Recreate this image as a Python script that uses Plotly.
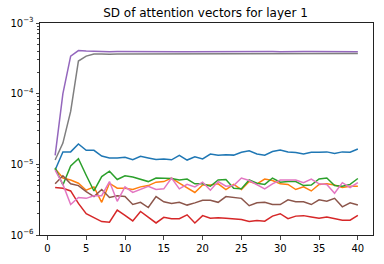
import plotly.graph_objects as go

x = list(range(1, 41))

blue = [8.3e-6, 1.5e-5, 1.5e-5, 1.94e-5, 1.58e-5, 1.58e-5, 1.31e-5, 1.23e-5, 1.23e-5, 1.26e-5,
        1.16e-5, 1.3e-5, 1.23e-5, 1.17e-5, 1.19e-5, 1.16e-5, 1.34e-5, 1.15e-5, 1.28e-5, 1.19e-5,
        1.4e-5, 1.34e-5, 1.37e-5, 1.35e-5, 1.48e-5, 1.55e-5, 1.4e-5, 1.35e-5, 1.52e-5, 1.6e-5,
        1.5e-5, 1.47e-5, 1.4e-5, 1.48e-5, 1.48e-5, 1.5e-5, 1.42e-5, 1.5e-5, 1.48e-5, 1.65e-5]
orange = [8.7e-6, 6.4e-6, 6.0e-6, 5.4e-6, 4.3e-6, 4.8e-6, 2.9e-6, 5.4e-6, 4.6e-6, 4.6e-6,
          4.4e-6, 4.8e-6, 5.0e-6, 5.6e-6, 5.7e-6, 6.4e-6, 5.4e-6, 4.7e-6, 4.0e-6, 5.1e-6,
          5.1e-6, 5.3e-6, 4.4e-6, 5.2e-6, 4.4e-6, 5.7e-6, 5.3e-6, 6.2e-6, 5.9e-6, 5.3e-6,
          5.2e-6, 4.4e-6, 4.8e-6, 4.2e-6, 5.2e-6, 5.3e-6, 5.1e-6, 4.7e-6, 4.9e-6, 4.9e-6]
green = [8.9e-6, 5.1e-6, 9.5e-6, 1.2e-5, 7.0e-6, 4.2e-6, 6.7e-6, 8.0e-6, 6.1e-6, 6.9e-6,
         6.6e-6, 6.2e-6, 5.7e-6, 6.4e-6, 6.3e-6, 6.3e-6, 6.0e-6, 6.2e-6, 5.3e-6, 5.3e-6,
         4.9e-6, 6.0e-6, 6.1e-6, 4.6e-6, 4.5e-6, 6.0e-6, 5.4e-6, 5.2e-6, 6.4e-6, 5.6e-6,
         5.7e-6, 5.7e-6, 5.0e-6, 5.1e-6, 6.2e-6, 6.4e-6, 5.0e-6, 4.9e-6, 5.2e-6, 6.3e-6]
red = [4.7e-6, 4.6e-6, 4.2e-6, 2.8e-6, 2.0e-6, 1.75e-6, 1.55e-6, 1.52e-6, 2.25e-6, 1.9e-6,
       1.58e-6, 2.15e-6, 1.8e-6, 1.48e-6, 1.78e-6, 1.7e-6, 1.7e-6, 1.93e-6, 1.48e-6, 1.88e-6,
       1.73e-6, 1.75e-6, 1.72e-6, 1.7e-6, 1.66e-6, 1.55e-6, 1.6e-6, 1.57e-6, 1.85e-6, 2.0e-6,
       1.7e-6, 1.85e-6, 1.88e-6, 1.8e-6, 1.72e-6, 1.8e-6, 1.7e-6, 1.62e-6, 1.62e-6, 1.9e-6]
purple = [1.34e-5, 1.0e-4, 3.4e-4, 4.07e-4, 4.0e-4, 3.95e-4, 3.93e-4, 3.93e-4, 3.94e-4, 3.95e-4,
          3.95e-4, 3.96e-4, 3.92e-4, 3.93e-4, 3.95e-4, 3.93e-4, 3.92e-4, 3.92e-4, 3.93e-4, 3.93e-4,
          3.94e-4, 3.94e-4, 3.95e-4, 3.95e-4, 3.94e-4, 3.94e-4, 3.95e-4, 3.95e-4, 3.95e-4, 3.93e-4,
          3.96e-4, 3.95e-4, 3.94e-4, 3.94e-4, 3.94e-4, 3.95e-4, 3.94e-4, 3.94e-4, 3.94e-4, 3.92e-4]
brown = [5.3e-6, 6.9e-6, 5.3e-6, 5.0e-6, 4.1e-6, 3.5e-6, 4.4e-6, 3.4e-6, 3.6e-6, 3.5e-6,
         2.7e-6, 2.9e-6, 2.45e-6, 3.5e-6, 2.95e-6, 2.8e-6, 2.9e-6, 2.65e-6, 2.85e-6, 3.1e-6,
         3.1e-6, 2.9e-6, 3.5e-6, 3.4e-6, 3.3e-6, 2.6e-6, 2.85e-6, 2.9e-6, 2.7e-6, 2.7e-6,
         3.15e-6, 2.95e-6, 2.95e-6, 2.7e-6, 3.15e-6, 3.0e-6, 3.3e-6, 2.5e-6, 2.85e-6, 2.65e-6]
pink = [8.3e-6, 5.2e-6, 2.7e-6, 3.4e-6, 3.3e-6, 3.6e-6, 3.6e-6, 5.7e-6, 3.0e-6, 4.8e-6,
        4.0e-6, 4.4e-6, 4.9e-6, 4.4e-6, 4.5e-6, 6.4e-6, 4.5e-6, 5.2e-6, 4.8e-6, 5.6e-6,
        4.3e-6, 5.7e-6, 4.9e-6, 5.0e-6, 6.4e-6, 5.9e-6, 5.2e-6, 4.5e-6, 5.3e-6, 6.0e-6,
        6.0e-6, 6.0e-6, 5.5e-6, 6.2e-6, 5.3e-6, 5.2e-6, 3.9e-6, 5.5e-6, 4.7e-6, 5.5e-6]
gray = [1.15e-5, 2.0e-5, 5.6e-5, 2.9e-4, 3.4e-4, 3.65e-4, 3.65e-4, 3.6e-4, 3.65e-4, 3.65e-4,
        3.65e-4, 3.66e-4, 3.62e-4, 3.65e-4, 3.67e-4, 3.68e-4, 3.68e-4, 3.67e-4, 3.68e-4, 3.66e-4,
        3.68e-4, 3.68e-4, 3.68e-4, 3.68e-4, 3.69e-4, 3.69e-4, 3.69e-4, 3.69e-4, 3.69e-4, 3.68e-4,
        3.69e-4, 3.69e-4, 3.69e-4, 3.69e-4, 3.7e-4, 3.7e-4, 3.7e-4, 3.7e-4, 3.7e-4, 3.7e-4]

series = [blue, orange, green, red, purple, brown, pink, gray]
colors = ["#1f77b4", "#ff7f0e", "#2ca02c", "#d62728", "#9467bd", "#8c564b", "#e377c2", "#7f7f7f"]

y_ticks = [1e-6, 1e-5, 1e-4, 1e-3]
y_tick_text = ["10<sup>−6</sup>", "10<sup>−5</sup>", "10<sup>−4</sup>", "10<sup>−3</sup>"]
x_ticks = [0, 5, 10, 15, 20, 25, 30, 35, 40]

fig = go.Figure()
for s, c in zip(series, colors):
    fig.add_trace(go.Scatter(x=x, y=s, mode="lines", line=dict(color=c, width=1.5), showlegend=False))

minor_vals = [m * 10 ** e for e in (-6, -5, -4) for m in range(2, 10)]

fig.update_layout(
    width=384, height=264,
    margin=dict(l=37, r=10, t=23, b=24),
    paper_bgcolor="white", plot_bgcolor="white",
    font=dict(family="DejaVu Sans", size=10, color="#000000"),
    title=dict(text="SD of attention vectors for layer 1", x=(37 + 374) / 2 / 384, xanchor="center",
               y=1 - 13 / 264, yanchor="middle", font=dict(size=12)),
)
fig.update_xaxes(range=[-0.95, 41.95], tickvals=x_ticks, ticks="outside", ticklen=3.5, tickwidth=0.8,
                 showline=True, linecolor="#222", linewidth=1, mirror=True, showgrid=False, zeroline=False,
                 tickfont=dict(size=10))
fig.update_yaxes(type="log", range=[-6, -3], tickvals=y_ticks, ticktext=y_tick_text, ticks="outside",
                 ticklen=3.5, tickwidth=0.8, showline=True, linecolor="#222", linewidth=1, mirror=True,
                 showgrid=False, zeroline=False, tickfont=dict(size=10),
                 minor=dict(tickvals=minor_vals, ticks="outside", ticklen=2, tickwidth=0.6, showgrid=False))

fig.write_html("out.html")
